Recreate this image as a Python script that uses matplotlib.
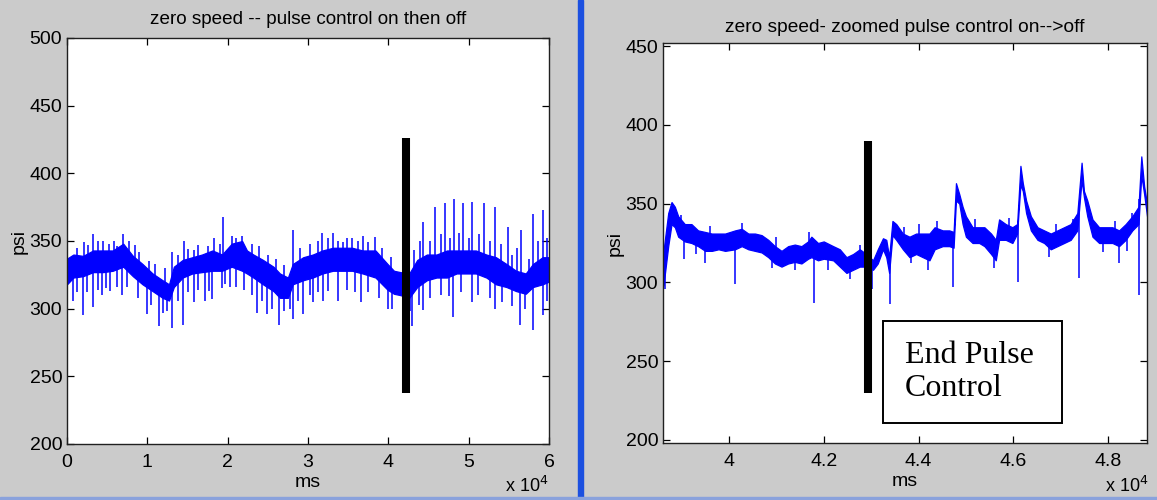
"""Pump pressure at zero speed, pulse control switched on then off.

Two MATLAB-style panels side by side: the full 60 s record and a zoom
around the moment the pulse control is switched off.
"""
import numpy as np
import matplotlib
matplotlib.use("Agg")
import matplotlib.pyplot as plt
from matplotlib.patches import Rectangle

# ---- left panel: full record (band envelope) ----
full_t = [0, 800, 2000, 3250, 4500, 5700, 7000, 8200, 9400, 10650,
          11900, 12700, 13300, 14400, 15600, 16800, 18100, 19300, 20500, 21800,
          22400, 23200, 24400, 25700, 26500, 27500, 28100, 29400, 30600, 31800,
          33100, 34300, 35500, 36800, 38400, 39900, 40700, 41500, 42600, 43600,
          44800, 46000, 47300, 48500, 49700, 50900, 52200, 53400, 54700, 55900,
          57100, 58000, 59200, 60000]
full_hi = [337, 340, 339, 343, 343, 343, 348, 339, 333, 326,
           321, 318, 331, 336, 338, 340, 343, 340, 348, 350,
           343, 340, 336, 331, 326, 323, 333, 338, 340, 343,
           345, 345, 345, 343, 343, 333, 328, 327, 326, 336,
           340, 340, 343, 343, 343, 343, 340, 338, 333, 328,
           326, 333, 338, 338]
full_lo = [318, 323, 324, 327, 327, 328, 331, 324, 318, 313,
           308, 306, 316, 323, 326, 327, 328, 328, 331, 328,
           326, 323, 318, 313, 308, 308, 318, 321, 323, 326,
           328, 328, 328, 326, 323, 314, 311, 310, 308, 316,
           321, 323, 323, 326, 326, 326, 323, 318, 316, 313,
           311, 316, 318, 320]

# tall spikes
full_up_t = [2100, 3250, 4490, 5800, 7000, 8500, 13100, 14600, 15800, 18300,
             19400, 20500, 21800, 28100, 31800, 33100, 34300, 35500, 36800, 38400,
             44300, 45800, 47000, 48200, 49300, 50400, 51900, 53300, 54900, 56500,
             58000, 59300]
full_up_v = [349, 355, 350, 350, 355, 347, 342, 350, 343, 352,
             368, 354, 354, 358, 356, 356, 349, 352, 354, 353,
             364, 375, 378, 381, 378, 379, 378, 375, 360, 358,
             370, 373]
full_dn_t = [780, 2000, 3200, 4300, 5300, 6800, 9900, 11500, 13100, 14450,
             15800, 17200, 18100, 19300, 20300, 23600, 24900, 26400, 28100, 29400,
             30600, 31850, 33700, 36600, 39900, 43000, 44300, 48100, 50400, 53300,
             56400, 58000, 59300]
full_dn_v = [306, 295, 301, 310, 313, 310, 296, 287, 286, 288,
             305, 306, 307, 315, 316, 297, 296, 288, 292, 296,
             305, 306, 306, 305, 300, 287, 299, 294, 305, 300,
             288, 284, 295]

# short fringe spikes along the band
full_fr_t = [1200, 2600, 3900, 5200, 6200, 7700, 9000, 10200, 11000, 12200,
             13800, 15000, 16300, 17500, 19000, 21000, 23000, 23900, 25000, 26000,
             27000, 29000, 30200, 31200, 32500, 33700, 34900, 36200, 37500, 39200,
             40300, 43200, 44000, 45200, 46500, 47700, 48800, 50000, 51300, 52600,
             54000, 55400, 56000, 57500, 58600, 59700,
             1300, 2500, 3800, 4900, 6200, 7500, 8800, 10400, 12000, 12400,
             13800, 15000, 16300, 17700, 19700, 21000, 22000, 23000, 24300, 25500,
             27000, 27800, 28800, 30200, 31300, 32500, 34800, 35800, 37500, 38800,
             40500, 42700, 43800, 45200, 46600, 47600, 49000, 51200, 52600, 54200,
             55400, 57000, 59800]
full_fr_v = [345, 347, 350, 348, 346, 350, 342, 335, 333, 330,
             340, 344, 347, 346, 348, 352, 348, 346, 340, 337,
             332, 345, 348, 350, 352, 350, 352, 350, 349, 345,
             338, 343, 350, 350, 355, 352, 356, 352, 355, 350,
             348, 340, 345, 337, 350, 352,
             312, 312, 314, 315, 316, 316, 308, 303, 297, 298,
             306, 312, 314, 313, 318, 316, 314, 310, 306, 300,
             298, 300, 306, 310, 312, 313, 314, 312, 312, 308,
             300, 298, 303, 308, 310, 309, 312, 310, 308, 305,
             302, 300, 306]

# ---- right panel: zoom around switch-off ----
zoom_t = [38620, 38720, 38790, 38860, 38930, 39070, 39210, 39350, 39500, 39640,
          39780, 39920, 40130, 40270, 40410, 40550, 40690, 40830, 40970, 41110,
          41250, 41390, 41530, 41670, 41740, 41880, 42000, 42200, 42340, 42480,
          42620, 42760, 42900, 43040, 43140, 43250, 43320, 43380, 43450, 43530,
          43670, 43810, 43950, 44090, 44230, 44340, 44510, 44650, 44740, 44790,
          44860, 44930, 45000, 45140, 45280, 45390, 45530, 45630, 45700, 45840,
          45980, 46080, 46150, 46200, 46270, 46370, 46510, 46650, 46790, 46930,
          47070, 47210, 47350, 47440, 47490, 47560, 47670, 47810, 47950, 48090,
          48230, 48370, 48510, 48640, 48700, 48760, 48830]
zoom_hi = [320, 344, 351, 348, 342, 337, 337, 333, 332, 331,
           331, 331, 333, 334, 331, 331, 330, 327, 323, 320,
           323, 324, 323, 326, 329, 325, 326, 323, 321, 316,
           318, 321, 318, 314, 321, 328, 327, 316, 339, 337,
           331, 329, 331, 331, 331, 335, 333, 333, 332, 363,
           356, 348, 342, 335, 335, 335, 331, 327, 340, 337,
           335, 337, 374, 363, 352, 342, 335, 333, 331, 333,
           335, 337, 344, 376, 358, 352, 340, 335, 335, 335,
           333, 337, 342, 348, 380, 361, 348]
zoom_lo = [298, 323, 337, 335, 329, 326, 325, 323, 320, 320,
           321, 320, 321, 323, 321, 320, 319, 316, 312, 310,
           312, 313, 312, 315, 316, 314, 315, 314, 310, 306,
           308, 310, 310, 308, 312, 321, 316, 306, 330, 327,
           321, 316, 318, 316, 314, 321, 323, 323, 322, 352,
           350, 337, 329, 325, 325, 323, 318, 314, 327, 327,
           325, 331, 362, 358, 344, 333, 327, 325, 321, 323,
           325, 327, 333, 365, 354, 342, 329, 325, 325, 325,
           323, 327, 333, 337, 368, 356, 340]

zoom_dn_t = [38650, 39060, 39500, 40130, 41800, 43020, 43390, 44720, 46090, 47380,
             48230, 48660]
zoom_dn_v = [296, 315, 312, 299, 287, 296, 286, 297, 300, 303,
             312, 292]
zoom_fr_t = [39000, 39600, 40270, 41000, 41700, 42760, 43700, 44000, 44400, 45200,
             45900, 46900, 47250, 48150, 48500,
             39300, 40900, 41400, 42100, 42550, 43850, 44200, 45600, 46750, 47900,
             48400]
zoom_fr_v = [343, 336, 338, 329, 332, 324, 335, 337, 339, 340,
             341, 337, 340, 339, 344,
             318, 309, 308, 308, 302, 312, 308, 309, 316, 319,
             320]

# "end pulse control" marker bars (ms, psi low, psi high)
full_bar = (42170, 238, 426)
zoom_bar = (42925, 230, 390)

BLUE = "#0000ff"
BG = "#cbcbcb"


def draw_trace(ax, t, lo, hi, spike_t, spike_v):
    t = np.asarray(t, float)
    lo = np.asarray(lo, float)
    hi = np.asarray(hi, float)
    ax.fill_between(t, lo, hi, color=BLUE, lw=0.9, zorder=2)
    mid = np.interp(spike_t, t, (lo + hi) / 2)
    ax.vlines(spike_t, mid, spike_v, colors=BLUE, lw=1.1, zorder=2)


def style_axes(ax, xticks, xlabels, yticks):
    ax.set_facecolor("white")
    ax.set_xticks(xticks)
    ax.set_xticklabels(xlabels)
    ax.set_yticks(yticks)
    ax.tick_params(direction="in", length=5, width=0.9, top=True, right=True,
                   labelsize=14, colors="black")
    ax.tick_params(axis="x", pad=7)
    ax.tick_params(axis="y", pad=3.5)
    for sp in ax.spines.values():
        sp.set_linewidth(1.0)
        sp.set_color("#202020")
    ax.set_xlabel("ms", fontsize=14, labelpad=2.5)
    ax.set_ylabel("psi", fontsize=14, labelpad=1)


def main():
    plt.rcParams["font.family"] = ["Liberation Sans", "DejaVu Sans"]
    fig = plt.figure(figsize=(11.57, 5.0), dpi=100, facecolor=BG)

    # window chrome: blue divider between the two screenshots, bottom strip
    fig.patches.append(Rectangle((578 / 1157, 0), 5 / 1157, 1,
                                 transform=fig.transFigure, color="#1c50e0",
                                 zorder=0))
    fig.patches.append(Rectangle((0, 0), 1, 0.006, transform=fig.transFigure,
                                 color="#8aa2dc", zorder=0))

    # left: whole record
    ax1 = fig.add_axes([67 / 1157, 56 / 500, 482 / 1157, 406 / 500])
    draw_trace(ax1, full_t, full_lo, full_hi,
               full_up_t + full_dn_t + full_fr_t,
               full_up_v + full_dn_v + full_fr_v)
    ax1.plot([full_bar[0]] * 2, full_bar[1:], color="black", lw=5.8,
             solid_capstyle="butt", zorder=3)
    ax1.set_xlim(0, 60000)
    ax1.set_ylim(200, 500)
    style_axes(ax1, np.arange(0, 60001, 10000),
               ["0", "1", "2", "3", "4", "5", "6"], np.arange(200, 501, 50))
    ax1.set_title("zero speed -- pulse control on then off", fontsize=13.6,
                  pad=10)

    # right: zoom on the switch-off
    ax2 = fig.add_axes([663 / 1157, 57 / 500, 484 / 1157, 400 / 500])
    draw_trace(ax2, zoom_t, zoom_lo, zoom_hi,
               zoom_dn_t + zoom_fr_t, zoom_dn_v + zoom_fr_v)
    ax2.plot([zoom_bar[0]] * 2, zoom_bar[1:], color="black", lw=5.8,
             solid_capstyle="butt", zorder=3)
    ax2.set_xlim(38610, 48820)
    ax2.set_ylim(198, 452)
    style_axes(ax2, np.arange(40000, 48001, 2000),
               ["4", "4.2", "4.4", "4.6", "4.8"], np.arange(200, 451, 50))
    ax2.set_title("zero speed- zoomed pulse control on-->off", fontsize=13.8,
                  pad=8)

    # annotation box
    ax2.add_patch(Rectangle((0.4545, 0.05), 0.37, 0.255, transform=ax2.transAxes,
                            facecolor="white", edgecolor="black", lw=1.4,
                            zorder=4))
    ax2.text(0.5, 0.178, "End Pulse\nControl", transform=ax2.transAxes,
             family=["Liberation Serif", "DejaVu Serif"], fontsize=23,
             linespacing=1.17, ha="left", va="center", zorder=5)

    # MATLAB exponent labels under each x axis (kept inside the figure)
    fig.text(505 / 1157, 4 / 500, r"x 10$^4$", fontsize=13, va="bottom")
    fig.text(1105 / 1157, 4 / 500, r"x 10$^4$", fontsize=13, va="bottom")

    fig.savefig("out.png", dpi=100, facecolor=BG)
    plt.close(fig)


if __name__ == "__main__":
    main()
